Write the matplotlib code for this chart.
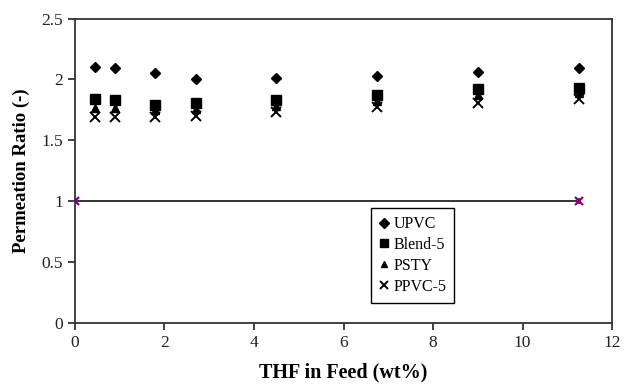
import matplotlib
matplotlib.use("Agg")
import matplotlib.pyplot as plt

thf = [0.45, 0.9, 1.8, 2.7, 4.5, 6.75, 9.0, 11.25]
upvc = [2.10, 2.095, 2.05, 2.00, 2.01, 2.03, 2.06, 2.095]
blend5 = [1.84, 1.835, 1.79, 1.81, 1.83, 1.875, 1.92, 1.93]
psty = [1.765, 1.765, 1.75, 1.755, 1.785, 1.825, 1.87, 1.885]
ppvc5 = [1.69, 1.69, 1.69, 1.70, 1.73, 1.77, 1.81, 1.84]
ref_x = [0, 11.25]
ref_y = [1, 1]

plt.rcParams['font.family'] = ['Liberation Serif', 'DejaVu Serif']

fig = plt.figure(figsize=(6.24, 3.86), dpi=100)
ax = fig.add_axes([0.120, 0.163, 0.861, 0.789])

ax.plot(ref_x, ref_y, color='#222222', lw=1.3, zorder=2)
ax.plot(ref_x, ref_y, ls='none', marker='x', color='#800080', ms=6, mew=1.6, zorder=3)
ax.plot(ref_x, ref_y, ls='none', marker='|', color='#800080', ms=5, mew=1.2, zorder=3)

ax.plot(thf, psty, ls='none', marker='^', color='black', ms=5.5, label='PSTY', zorder=3)
ax.plot(thf, upvc, ls='none', marker='D', color='black', ms=5.5, label='UPVC', zorder=4)
ax.plot(thf, blend5, ls='none', marker='s', color='black', ms=6.5, label='Blend-5', zorder=4)
ax.plot(thf, ppvc5, ls='none', marker='x', color='black', ms=7, mew=1.4, label='PPVC-5', zorder=4)

ax.set_xlim(0, 12)
ax.set_ylim(0, 2.5)
ax.set_xticks([0, 2, 4, 6, 8, 10, 12])
ax.set_yticks([0, 0.5, 1, 1.5, 2, 2.5])
ax.set_yticklabels(['0', '0.5', '1', '1.5', '2', '2.5'])
ax.tick_params(direction='out', length=5, width=1.2, labelsize=12.5, colors='#222222')
for s in ax.spines.values():
    s.set_linewidth(1.3)
    s.set_color('#333333')

ax.set_xlabel('THF in Feed (wt%)', fontsize=14.5, fontweight='bold', labelpad=8)
ax.set_ylabel('Permeation Ratio (-)', fontsize=13.5, fontweight='bold', labelpad=8)

handles, labels = ax.get_legend_handles_labels()
order = ['UPVC', 'Blend-5', 'PSTY', 'PPVC-5']
hmap = dict(zip(labels, handles))
leg = ax.legend([hmap[k] for k in order], order, loc='upper left',
                bbox_to_anchor=(0.551, 0.377), borderaxespad=0,
                fancybox=False, framealpha=1, edgecolor='black', fontsize=11.5,
                handlelength=0.6, handletextpad=0.3, labelspacing=0.3,
                borderpad=0.5, markerscale=0.9)
leg.get_frame().set_linewidth(1.0)

fig.savefig('out.png', dpi=100)
